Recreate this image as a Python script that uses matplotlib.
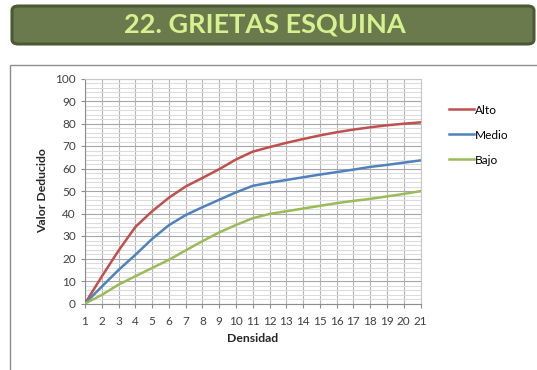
import matplotlib.pyplot as plt
from matplotlib.patches import FancyBboxPatch, Rectangle
from matplotlib.ticker import MultipleLocator

# Curvas de valor deducido por nivel de severidad
densidad = list(range(1, 22))
alto = [0, 12, 23.5, 34, 41, 47, 52, 55.8, 59.7, 64, 67.5,
        69.5, 71.4, 73.1, 74.7, 76.1, 77.3, 78.3, 79.2, 79.9, 80.5]
medio = [0, 7.5, 14.9, 21.6, 28.7, 34.8, 39.3, 42.8, 46.1, 49.4, 52.3,
         53.7, 54.9, 56.1, 57.3, 58.4, 59.5, 60.7, 61.6, 62.6, 63.6]
bajo = [0, 3.8, 8.4, 12.1, 15.8, 19.4, 23.6, 27.7, 31.6, 34.9, 37.9,
        39.8, 41.0, 42.2, 43.4, 44.6, 45.6, 46.5, 47.6, 48.7, 49.9]

series = [("Alto", alto, "#c0504d"), ("Medio", medio, "#4f81bd"), ("Bajo", bajo, "#9bbb59")]

plt.rcParams['font.family'] = ['Lato', 'DejaVu Sans']

fig = plt.figure(figsize=(5.37, 3.70), dpi=100)

# banner del titulo
banner = FancyBboxPatch((12 / 537, 1 - 44 / 370), 522 / 537, 38 / 370,
                        boxstyle="round,pad=0,rounding_size=0.012",
                        transform=fig.transFigure, facecolor="#6b7a4c",
                        edgecolor="#4d5934", linewidth=2.2, zorder=-1)
fig.patches.append(banner)
fig.text(265 / 537, 1 - 25 / 370, "22. GRIETAS ESQUINA", ha="center", va="center",
         fontsize=19.5, fontweight="bold", color="#d6f28e", zorder=2)

# marco del grafico
frame = Rectangle((10 / 537, -0.1), 1.0, 1 - 65 / 370 + 0.1, transform=fig.transFigure,
                  facecolor="white", edgecolor="#8c8c8c", linewidth=1.0, zorder=-1)
fig.patches.append(frame)

ax = fig.add_axes([85 / 537, 66.5 / 370, 335.5 / 537, 225 / 370])
ax.set_zorder(1)
ax.set_facecolor("none")

for nombre, valores, color in series:
    ax.plot(densidad, valores, color=color, linewidth=1.8, label=nombre, zorder=3)

ax.set_xlim(1, 21)
ax.set_ylim(0, 100)
ax.set_xticks(densidad)
ax.yaxis.set_major_locator(MultipleLocator(10))
ax.yaxis.set_minor_locator(MultipleLocator(2))

ax.grid(which="minor", axis="y", color="#dcdcdc", linewidth=0.8)
ax.grid(which="major", axis="y", color="#a6a6a6", linewidth=0.8)
ax.grid(which="major", axis="x", color="#b4b4b4", linewidth=0.8)
ax.set_axisbelow(True)

for s in ax.spines.values():
    s.set_color("#c8c8c8")
    s.set_linewidth(0.8)
ax.spines["left"].set_color("#8c8c8c")
ax.spines["bottom"].set_color("#8c8c8c")

ax.tick_params(axis="both", which="major", labelsize=8.5, colors="#8c8c8c",
               labelcolor="#404040", length=3, width=0.8)
ax.tick_params(axis="y", which="minor", length=0)
ax.tick_params(axis="x", pad=6)

ax.set_xlabel("Densidad", fontsize=8.8, fontweight="bold", color="#262626", labelpad=4)
ax.set_ylabel("Valor Deducido", fontsize=8.8, fontweight="bold", color="#262626", labelpad=5)

ax.legend(loc="upper left", bbox_to_anchor=(1.07, 0.905), frameon=False, fontsize=8.6,
          handlelength=2.1, handletextpad=0.1, labelspacing=1.17, borderaxespad=0)

fig.savefig("out.png", dpi=100)
